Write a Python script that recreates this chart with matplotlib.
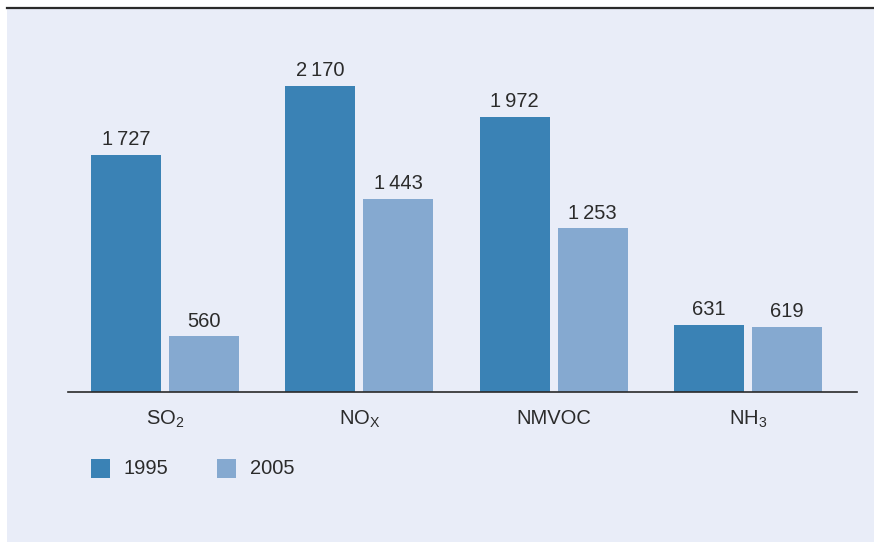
import matplotlib
matplotlib.use("Agg")
import matplotlib.pyplot as plt
import numpy as np
from matplotlib.patches import Rectangle
from matplotlib.lines import Line2D

# 數值（千噸），軸底從 200 起
categories = ["SO$_2$", "NO$_\\mathregular{X}$", "NMVOC", "NH$_3$"]
v1995 = [1727, 2170, 1972, 631]
v2005 = [560, 1443, 1253, 619]
years = ["1995", "2005"]

C_DARK = "#3a82b5"
C_LIGHT = "#85a9d0"
BG = "#e9edf8"
TXT = "#2b2b2b"
FS = 14.5

plt.rcParams["font.family"] = ["Liberation Sans", "DejaVu Sans"]
plt.rcParams["mathtext.default"] = "regular"

W, H = 874, 542
fig = plt.figure(figsize=(W / 100, H / 100), dpi=100)
fig.patch.set_facecolor("white")

# 背景面板與頂部線
fig.patches.append(Rectangle((7 / W, 0), 1 - 7 / W, 1 - 9 / H, transform=fig.transFigure,
                             facecolor=BG, edgecolor="none", zorder=-5))
fig.add_artist(Line2D([7 / W, 1], [1 - 8 / H, 1 - 8 / H], transform=fig.transFigure,
                      color="#2a2a2a", lw=1.6))

ax_l, ax_r, ax_b, ax_t = 68, 857, 392, 12
ax = fig.add_axes([ax_l / W, 1 - ax_b / H, (ax_r - ax_l) / W, (ax_b - ax_t) / H])
ax.set_facecolor("none")
ax.set_zorder(2)

px_per_unit = 194.3
bw = 70 / px_per_unit
gap = 8 / px_per_unit
x = np.arange(len(categories))
off = bw / 2 + gap / 2

ymin = 200
px_per_val = 306 / (2170 - ymin)
ymax = ymin + (ax_b - ax_t) / px_per_val

b1 = ax.bar(x - off, [v - ymin for v in v1995], bw, bottom=ymin, color=C_DARK)
b2 = ax.bar(x + off, [v - ymin for v in v2005], bw, bottom=ymin, color=C_LIGHT)


def fmt(v):
    return f"{v:,}".replace(",", "\u2009")


for bars, vals in ((b1, v1995), (b2, v2005)):
    for rect, v in zip(bars, vals):
        ax.annotate(fmt(v), (rect.get_x() + rect.get_width() / 2, v), xytext=(0, 4),
                    textcoords="offset points", ha="center", va="bottom",
                    fontsize=FS, color=TXT)

ax.set_xlim(-0.5, 3.561)
ax.set_ylim(ymin, ymax)
for s in ("top", "right", "left"):
    ax.spines[s].set_visible(False)
ax.spines["bottom"].set_color("#2a2a2a")
ax.spines["bottom"].set_linewidth(1.2)
ax.set_yticks([])
ax.set_xticks(x)
ax.set_xticklabels(categories, fontsize=FS, color=TXT)
ax.tick_params(axis="x", length=0, pad=12)

# 圖例
for i, (yr, c) in enumerate(zip(years, [C_DARK, C_LIGHT])):
    x0 = 91 + i * 126
    fig.patches.append(Rectangle((x0 / W, 1 - 478 / H), 19 / W, 19 / H,
                                 transform=fig.transFigure, facecolor=c, edgecolor="none"))
    fig.text((x0 + 33) / W, 1 - 468.5 / H, yr, fontsize=FS, color=TXT, va="center", ha="left")

fig.savefig("out.png", dpi=100, facecolor=fig.get_facecolor())
